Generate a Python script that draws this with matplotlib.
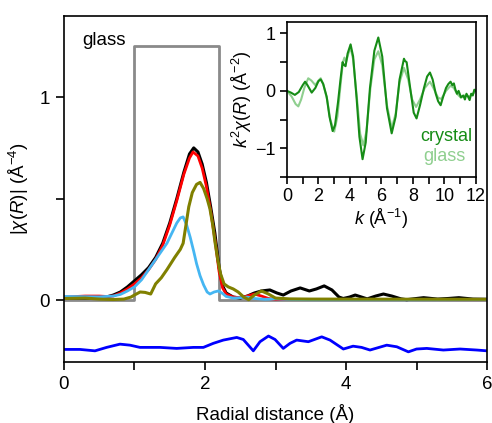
import matplotlib
matplotlib.use("Agg")
import matplotlib.pyplot as plt
from matplotlib import rcParams

rcParams.update({"font.family": "Liberation Sans", "font.size": 13.5,
                 "mathtext.fontset": "custom",
                 "mathtext.rm": "Liberation Sans",
                 "mathtext.it": "Liberation Sans:italic",
                 "axes.linewidth": 1.2})

### data: |chi(R)| curves ####################################################
r_black = [0.0, 0.3, 0.5, 0.6, 0.7, 0.8, 0.9, 1.0, 1.1, 1.2, 1.3, 1.4, 1.5, 1.6,
           1.7, 1.78, 1.84, 1.9, 1.96, 2.02, 2.08, 2.14, 2.2, 2.25, 2.3, 2.4,
           2.5, 2.6, 2.7, 2.8, 2.92, 3.02, 3.11, 3.22, 3.35, 3.48, 3.58, 3.69,
           3.8, 3.9, 3.96, 4.05, 4.13, 4.22, 4.3, 4.42, 4.53, 4.65, 4.78, 4.86,
           5.0, 5.1, 5.3, 5.45, 5.6, 5.8, 6.0]
v_black = [0.01, 0.01, 0.01, 0.015, 0.025, 0.04, 0.065, 0.095, 0.125, 0.16,
           0.21, 0.28, 0.38, 0.5, 0.63, 0.72, 0.75, 0.73, 0.67, 0.58, 0.46,
           0.33, 0.16, 0.07, 0.035, 0.015, 0.01, 0.02, 0.035, 0.045, 0.05,
           0.035, 0.025, 0.045, 0.06, 0.045, 0.055, 0.07, 0.05, 0.015, 0.008,
           0.015, 0.025, 0.015, 0.006, 0.02, 0.03, 0.02, 0.006, 0.002, 0.008,
           0.012, 0.005, 0.008, 0.012, 0.005, 0.004]

r_red = [0.0, 0.3, 0.5, 0.6, 0.7, 0.8, 0.9, 1.0, 1.1, 1.2, 1.3, 1.4, 1.5, 1.6,
         1.7, 1.78, 1.83, 1.9, 1.96, 2.02, 2.08, 2.14, 2.2, 2.25, 2.3, 2.4,
         2.5, 2.6, 2.7, 2.8, 2.9, 3.0, 3.5, 6.0]
v_red = [0.015, 0.02, 0.02, 0.018, 0.02, 0.035, 0.055, 0.08, 0.11, 0.15, 0.2,
         0.27, 0.37, 0.49, 0.62, 0.7, 0.73, 0.71, 0.65, 0.56, 0.44, 0.3, 0.14,
         0.06, 0.03, 0.015, 0.012, 0.02, 0.03, 0.02, 0.008, 0.003, 0.003, 0.002]

r_sky = [0.0, 0.3, 0.5, 0.7, 0.8, 0.9, 1.0, 1.1, 1.2, 1.3, 1.4, 1.46, 1.53,
         1.6, 1.65, 1.69, 1.74, 1.79, 1.84, 1.88, 1.93, 1.98, 2.03, 2.07,
         2.13, 2.19, 2.24, 2.3, 2.4, 2.5, 2.6, 2.7, 2.85, 3.0, 3.2, 3.5, 6.0]
v_sky = [0.018, 0.017, 0.016, 0.02, 0.028, 0.045, 0.065, 0.1, 0.15, 0.2, 0.25,
         0.28, 0.33, 0.38, 0.405, 0.41, 0.37, 0.31, 0.24, 0.18, 0.12, 0.075,
         0.04, 0.03, 0.04, 0.045, 0.035, 0.018, 0.01, 0.012, 0.015, 0.008,
         0.004, 0.006, 0.003, 0.002, 0.002]

r_olive = [0.0, 0.3, 0.5, 0.7, 0.85, 0.95, 1.0, 1.08, 1.15, 1.23, 1.3, 1.38,
           1.46, 1.57, 1.65, 1.69, 1.73, 1.77, 1.82, 1.88, 1.93, 1.98, 2.03,
           2.07, 2.11, 2.14, 2.18, 2.22, 2.27, 2.33, 2.4, 2.47, 2.55, 2.62,
           2.7, 2.8, 2.9, 3.0, 3.2, 3.5, 6.0]
v_olive = [0.008, 0.01, 0.005, 0.003, 0.005, 0.015, 0.025, 0.04, 0.038, 0.03,
           0.08, 0.11, 0.15, 0.21, 0.25, 0.28, 0.37, 0.46, 0.53, 0.57, 0.58,
           0.55, 0.5, 0.45, 0.37, 0.29, 0.2, 0.13, 0.08, 0.065, 0.055, 0.04,
           0.015, 0.002, 0.025, 0.045, 0.03, 0.01, 0.006, 0.005, 0.004]

r_resid = [0.0, 0.227, 0.44, 0.605, 0.794, 0.936, 1.078, 1.362, 1.598, 1.835,
           1.977, 2.118, 2.26, 2.45, 2.543, 2.614, 2.685, 2.78, 2.9, 2.993,
           3.11, 3.206, 3.3, 3.466, 3.655, 3.773, 3.962, 4.1, 4.22, 4.34,
           4.577, 4.72, 4.884, 5.0, 5.145, 5.38, 5.617, 5.853, 6.0]
v_resid = [-0.243, -0.243, -0.25, -0.233, -0.217, -0.222, -0.233, -0.233,
           -0.238, -0.233, -0.233, -0.213, -0.197, -0.184, -0.194, -0.222,
           -0.25, -0.205, -0.177, -0.194, -0.238, -0.213, -0.197, -0.205,
           -0.181, -0.197, -0.241, -0.227, -0.233, -0.246, -0.222, -0.230,
           -0.255, -0.241, -0.238, -0.246, -0.241, -0.246, -0.25]

# FT window
r_win = [0.0, 1.0, 1.0, 2.2, 2.2, 6.0]
v_win = [0.0, 0.0, 1.25, 1.25, 0.0, 0.0]

### data: k-space inset ######################################################
k_cry = [0, 0.25, 0.5, 0.75, 1.0, 1.15, 1.3, 1.57, 1.8, 2.0, 2.14, 2.3, 2.52,
         2.7, 2.9, 3.05, 3.24, 3.4, 3.53, 3.63, 3.72, 3.85, 4.04, 4.2, 4.42,
         4.6, 4.8, 5.0, 5.27, 5.55, 5.8, 6.05, 6.35, 6.65, 6.9, 7.15, 7.43,
         7.5, 7.6, 7.85, 8.05, 8.23, 8.45, 8.7, 8.9, 9.08, 9.25, 9.45, 9.6,
         9.76, 9.9, 10.1, 10.25, 10.39, 10.5, 10.6, 10.7, 10.8, 10.9, 11.05,
         11.2, 11.3, 11.4, 11.5, 11.6, 11.7, 11.8, 11.9, 12.0]
x_cry = [0, -0.03, -0.07, -0.02, 0.1, 0.16, 0.1, -0.03, 0.05, 0.17, 0.2, 0.12,
         -0.1, -0.45, -0.7, -0.6, -0.2, 0.2, 0.5, 0.45, 0.43, 0.65, 0.81, 0.6,
         -0.12, -0.8, -1.19, -0.9, 0.05, 0.7, 0.93, 0.6, -0.3, -0.74, -0.45,
         0.2, 0.56, 0.52, 0.5, 0.0, -0.38, -0.48, -0.25, 0.05, 0.25, 0.32, 0.2,
         -0.05, -0.18, -0.25, -0.12, 0.05, 0.12, 0.16, 0.1, 0.13, 0.02, -0.05,
         0.0, -0.11, -0.08, -0.15, -0.05, -0.1, -0.16, -0.05, -0.08, 0.02, 0.0]

k_gla = [0, 0.3, 0.55, 0.72, 0.9, 1.1, 1.35, 1.55, 1.8, 2.0, 2.14, 2.3, 2.55,
         2.75, 3.0, 3.2, 3.4, 3.55, 3.65, 3.75, 3.9, 4.04, 4.2, 4.45, 4.65,
         4.85, 5.05, 5.3, 5.55, 5.8, 6.05, 6.35, 6.65, 6.9, 7.15, 7.43, 7.7,
         7.95, 8.2, 8.45, 8.75, 9.08, 9.3, 9.6, 9.8, 10.1, 10.39, 10.6, 10.8,
         11.05, 11.3, 11.6, 11.8, 12.0]
x_gla = [0, -0.1, -0.23, -0.27, -0.15, 0.05, 0.22, 0.18, 0.1, 0.18, 0.22, 0.12,
         -0.15, -0.5, -0.71, -0.45, 0.1, 0.5, 0.58, 0.5, 0.65, 0.75, 0.55,
         -0.15, -0.75, -0.95, -0.7, 0.05, 0.55, 0.69, 0.45, -0.25, -0.65, -0.4,
         0.15, 0.4, 0.2, -0.15, -0.28, -0.15, 0.05, 0.16, 0.05, -0.12, -0.14,
         0.0, 0.09, 0.05, -0.05, -0.12, -0.08, -0.1, -0.05, 0.0]

c_cry = "#168c16"
c_gla = "#8fcf8f"

### plot #####################################################################
fig = plt.figure(figsize=(4.92, 4.23), dpi=100)
ax = fig.add_axes([0.130, 0.1442, 0.860, 0.818])

ax.plot(r_win, v_win, color="#8a8a8a", lw=2.0)
ax.plot(r_black, v_black, color="k", lw=2.2)
ax.plot(r_red, v_red, color="#ff0000", lw=2.0)
ax.plot(r_sky, v_sky, color="#45b6f2", lw=2.0)
ax.plot(r_olive, v_olive, color="#808000", lw=2.2)
ax.plot(r_resid, v_resid, color="#0000ff", lw=2.0)

ax.set_xlim(0, 6)
ax.set_ylim(-0.305, 1.40)
ax.set_xticks([0, 1, 2, 3, 4, 5, 6])
ax.set_xticklabels(["0", "", "2", "", "4", "", "6"])
ax.set_yticks([0, 0.5, 1])
ax.set_yticklabels(["0", "", "1"])
ax.tick_params(length=6, width=1.2, pad=4)
ax.set_xlabel("Radial distance (Å)", labelpad=8)
ax.set_ylabel(r"$|\chi(R)|$ (Å$^{-4}$)", labelpad=6)
ax.text(0.043, 0.955, "glass", transform=ax.transAxes, va="top", ha="left")

# inset
axi = fig.add_axes([0.5833, 0.5816, 0.384, 0.3664])
axi.plot(k_gla, x_gla, color=c_gla, lw=1.5)
axi.plot(k_cry, x_cry, color=c_cry, lw=1.5)
axi.set_xlim(0, 12)
axi.set_ylim(-1.5, 1.2)
axi.set_xticks(range(0, 13))
axi.set_xticklabels([str(i) if i % 2 == 0 else "" for i in range(0, 13)])
axi.set_yticks([-1.5, -1, -0.5, 0, 0.5, 1])
axi.set_yticklabels(["", "\u22121", "", "0", "", "1"])
axi.tick_params(length=5, width=1.2, pad=3, labelsize=13)
axi.set_xlabel(r"$k$ (Å$^{-1}$)", labelpad=1, fontsize=13)
axi.set_ylabel(r"$k^2\chi(R)$ (Å$^{-2}$)", labelpad=1, fontsize=13)
axi.text(0.98, 0.26, "crystal", color=c_cry, transform=axi.transAxes,
         ha="right", va="center", fontsize=13)
axi.text(0.72, 0.13, "glass", color=c_gla, transform=axi.transAxes,
         ha="left", va="center", fontsize=13)

fig.savefig("out.png", dpi=100)
